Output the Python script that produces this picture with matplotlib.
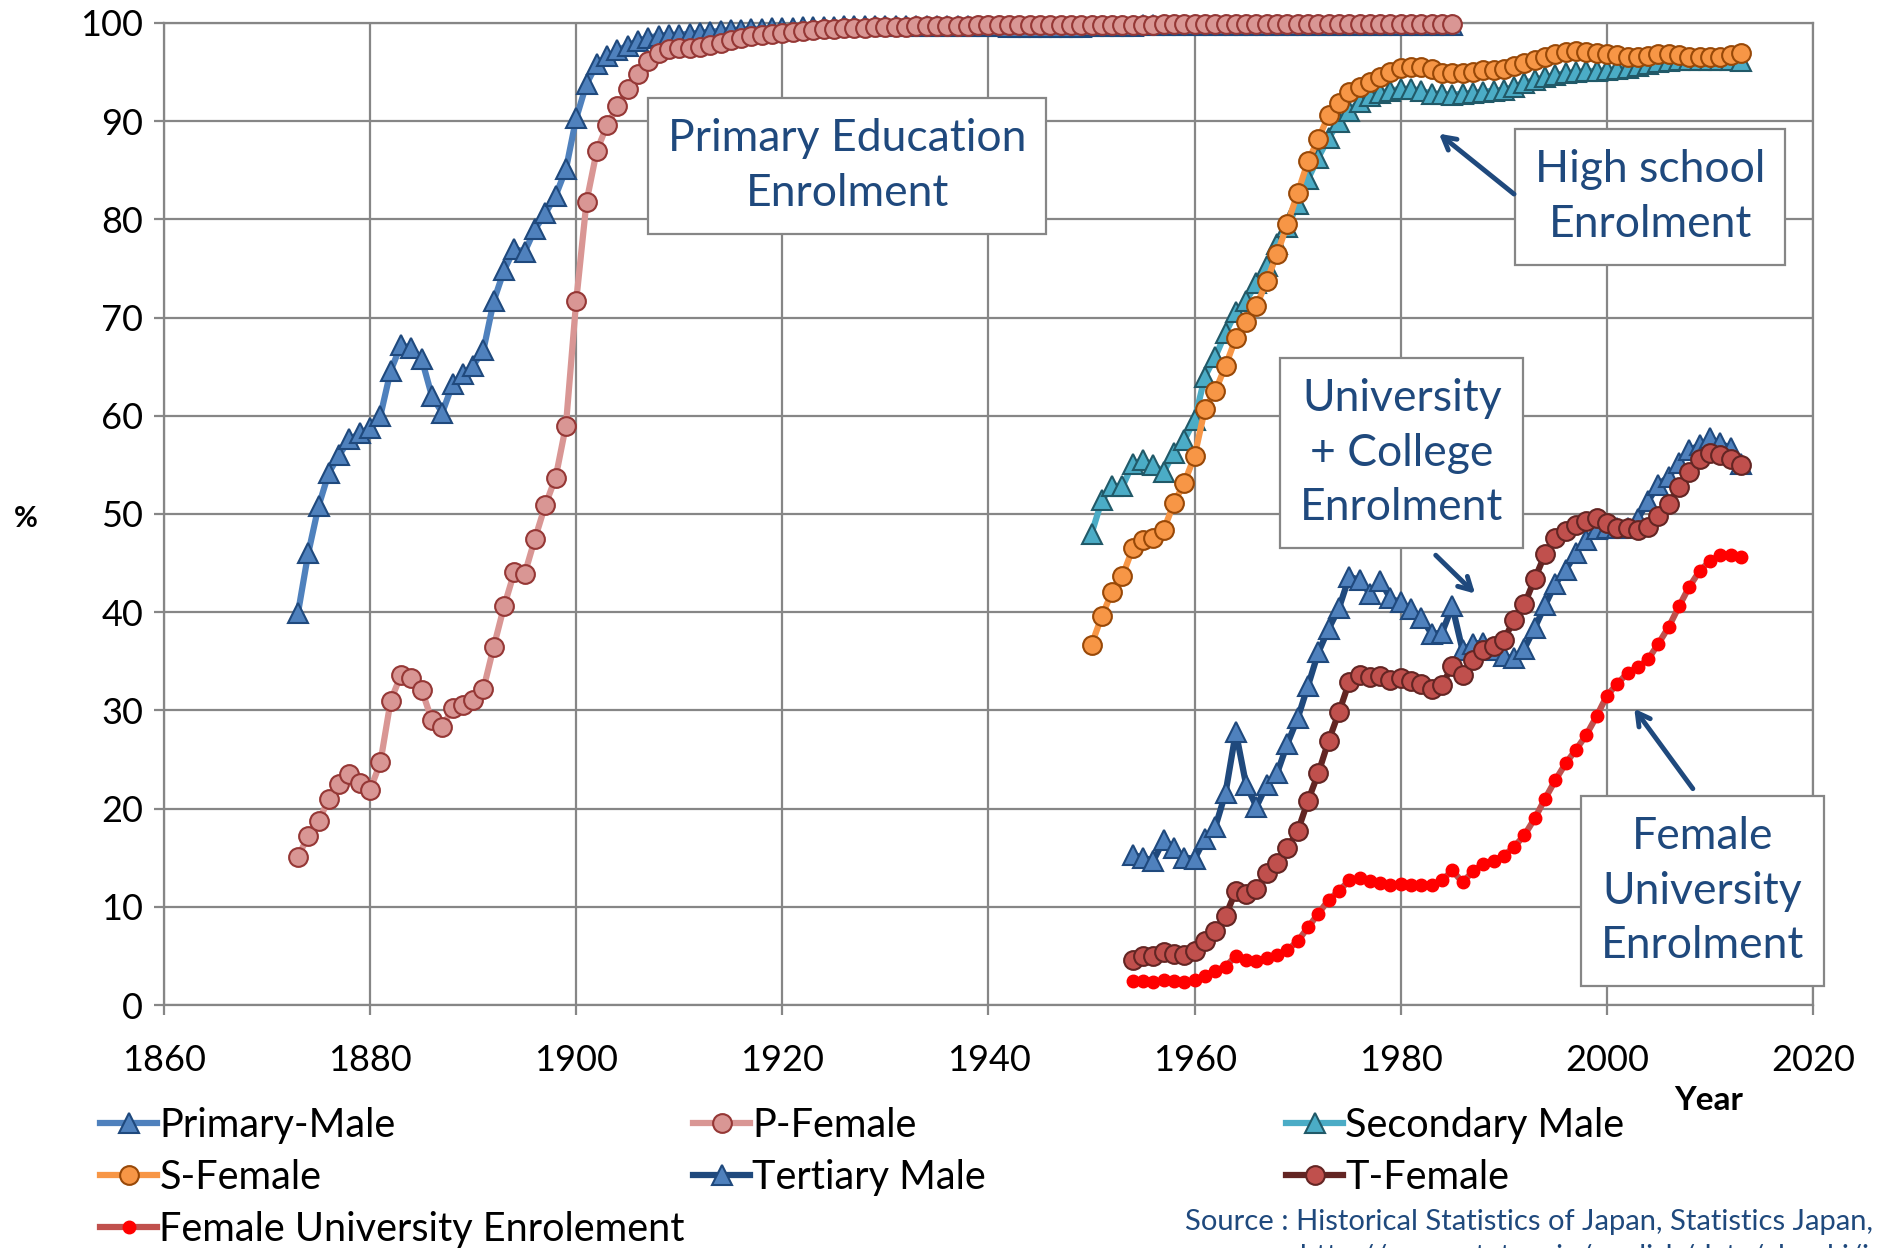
import numpy as np
import matplotlib
matplotlib.use("Agg")
import matplotlib.pyplot as plt

plt.rcParams['font.family'] = ['Lato', 'DejaVu Sans']

# ---- data ----
primary_years = list(range(1873, 1986))
primary_male = [39.9, 46.0, 50.8, 54.2, 56.0, 57.6, 58.2, 58.8, 60.0, 64.6,
                67.2, 66.9, 65.8, 62.0, 60.3, 63.2, 64.3, 65.1, 66.7, 71.7,
                74.8, 77.0, 76.7, 79.0, 80.6, 82.4, 85.1, 90.3, 93.8, 95.8,
                96.6, 97.2, 97.7, 98.2, 98.5, 98.7, 98.8, 98.8, 98.9, 99.0,
                99.1, 99.2, 99.3, 99.3, 99.4, 99.4, 99.5, 99.5, 99.5, 99.6,
                99.6, 99.6, 99.6, 99.7, 99.7, 99.7, 99.7, 99.7, 99.7, 99.7,
                99.7, 99.7, 99.7, 99.7, 99.7, 99.7, 99.7, 99.7, 99.7, 99.6,
                99.6, 99.6, 99.6, 99.6, 99.6, 99.6, 99.6, 99.7, 99.7, 99.7,
                99.7, 99.7, 99.8, 99.8, 99.8, 99.8, 99.8, 99.8, 99.8, 99.8,
                99.8, 99.8, 99.8, 99.8, 99.8, 99.8, 99.8, 99.8, 99.8, 99.8,
                99.8, 99.8, 99.8, 99.8, 99.8, 99.8, 99.8, 99.8, 99.8, 99.8,
                99.8, 99.8, 99.8]
primary_female = [15.1, 17.2, 18.7, 21.0, 22.5, 23.5, 22.6, 21.9, 24.7, 31.0,
                  33.6, 33.3, 32.1, 29.0, 28.3, 30.2, 30.5, 31.1, 32.2, 36.5,
                  40.6, 44.1, 43.9, 47.5, 50.9, 53.7, 59.0, 71.7, 81.8, 87.0,
                  89.6, 91.5, 93.3, 94.8, 96.1, 96.9, 97.3, 97.4, 97.5, 97.6,
                  97.8, 98.0, 98.3, 98.5, 98.7, 98.8, 98.9, 99.0, 99.1, 99.2,
                  99.3, 99.4, 99.4, 99.5, 99.5, 99.5, 99.6, 99.6, 99.6, 99.6,
                  99.7, 99.7, 99.7, 99.7, 99.7, 99.7, 99.8, 99.8, 99.8, 99.8,
                  99.8, 99.8, 99.8, 99.8, 99.8, 99.8, 99.8, 99.8, 99.8, 99.8,
                  99.8, 99.8, 99.8, 99.8, 99.9, 99.9, 99.9, 99.9, 99.9, 99.9,
                  99.9, 99.9, 99.9, 99.9, 99.9, 99.9, 99.9, 99.9, 99.9, 99.9,
                  99.9, 99.9, 99.9, 99.9, 99.9, 99.9, 99.9, 99.9, 99.9, 99.9,
                  99.9, 99.9, 99.9]

secondary_years = list(range(1950, 2014))
secondary_male = [48.0, 51.4, 52.9, 52.8, 55.1, 55.5, 55.0, 54.3, 56.2, 57.5,
                  59.6, 64.0, 66.0, 68.4, 70.6, 71.7, 73.5, 75.3, 77.5, 79.2,
                  81.6, 84.1, 86.3, 88.3, 89.9, 91.0, 92.0, 92.6, 92.9, 93.1,
                  93.3, 93.3, 93.1, 92.8, 92.8, 92.7, 92.8, 92.9, 93.0, 93.1,
                  93.2, 93.5, 93.9, 94.2, 94.5, 94.7, 94.9, 95.0, 95.1, 95.1,
                  95.2, 95.3, 95.4, 95.6, 95.8, 96.0, 96.1, 96.2, 96.2, 96.2,
                  96.2, 96.2, 96.2, 96.1]
secondary_female = [36.7, 39.6, 42.1, 43.7, 46.5, 47.4, 47.6, 48.4, 51.1, 53.2,
                    55.9, 60.7, 62.5, 65.1, 67.9, 69.6, 71.2, 73.7, 76.5, 79.5,
                    82.7, 85.9, 88.2, 90.6, 91.9, 93.0, 93.5, 94.0, 94.5, 95.0,
                    95.4, 95.5, 95.5, 95.3, 94.9, 94.9, 94.9, 95.0, 95.2, 95.2,
                    95.3, 95.6, 95.9, 96.2, 96.5, 96.8, 97.0, 97.1, 97.0, 96.9,
                    96.8, 96.7, 96.5, 96.5, 96.6, 96.8, 96.8, 96.7, 96.5, 96.5,
                    96.5, 96.5, 96.7, 96.9]

tertiary_years = list(range(1954, 2014))
tertiary_male = [15.3, 15.0, 14.7, 16.8, 16.0, 15.0, 14.9, 16.9, 18.1, 21.6,
                 27.8, 22.4, 20.2, 22.4, 23.6, 26.6, 29.2, 32.5, 35.9, 38.3,
                 40.4, 43.6, 43.3, 41.9, 43.2, 41.4, 41.0, 40.3, 39.4, 37.8,
                 37.9, 40.6, 36.1, 36.8, 36.9, 36.2, 35.5, 35.3, 36.3, 38.4,
                 40.7, 42.9, 44.3, 46.0, 47.4, 48.5, 48.6, 48.6, 48.6, 49.5,
                 51.3, 53.0, 53.8, 55.2, 56.5, 57.0, 57.7, 57.2, 56.7, 55.1]
tertiary_female = [4.6, 5.0, 5.0, 5.4, 5.2, 5.1, 5.5, 6.5, 7.5, 9.1,
                   11.6, 11.3, 11.8, 13.4, 14.5, 16.0, 17.7, 20.8, 23.6, 26.9,
                   29.8, 32.9, 33.6, 33.4, 33.5, 33.1, 33.3, 33.0, 32.7, 32.2,
                   32.6, 34.5, 33.6, 35.1, 36.2, 36.6, 37.2, 39.2, 40.8, 43.4,
                   45.9, 47.6, 48.3, 48.9, 49.3, 49.6, 49.1, 48.6, 48.6, 48.4,
                   48.7, 49.8, 51.0, 52.7, 54.3, 55.6, 56.2, 56.0, 55.6, 55.0]
female_university = [2.4, 2.4, 2.3, 2.5, 2.4, 2.3, 2.5, 3.0, 3.5, 3.9,
                     5.0, 4.6, 4.5, 4.8, 5.1, 5.6, 6.5, 7.9, 9.3, 10.7,
                     11.6, 12.7, 12.9, 12.6, 12.4, 12.2, 12.3, 12.2, 12.2, 12.2,
                     12.7, 13.7, 12.5, 13.6, 14.4, 14.7, 15.2, 16.1, 17.3, 19.0,
                     21.0, 22.9, 24.6, 26.0, 27.5, 29.4, 31.5, 32.7, 33.8, 34.4,
                     35.2, 36.8, 38.5, 40.6, 42.6, 44.2, 45.2, 45.8, 45.8, 45.6]

NAVY = '#1F497D'
GRID = '#868686'

fig = plt.figure(figsize=(18.78, 12.48), dpi=100)
ax = fig.add_axes([0.0873, 0.1947, 0.8781, 0.7869])

kw = dict(clip_on=False, zorder=3)
l_pm, = ax.plot(primary_years, primary_male, color='#4F81BD', lw=4.5, marker='^', ms=14.5,
                mfc='#4F81BD', mec=NAVY, mew=1.5, label='Primary-Male', **kw)
l_pf, = ax.plot(primary_years, primary_female, color='#D99694', lw=4.5, marker='o', ms=13.5,
                mfc='#D99694', mec='#953735', mew=1.5, label='P-Female', **kw)
l_sm, = ax.plot(secondary_years, secondary_male, color='#4BACC6', lw=4.5, marker='^', ms=14.5,
                mfc='#4BACC6', mec='#215968', mew=1.5, label='Secondary Male', **kw)
l_sf, = ax.plot(secondary_years, secondary_female, color='#F79646', lw=4.5, marker='o', ms=13.5,
                mfc='#F79646', mec='#984807', mew=1.5, label='S-Female', **kw)
l_tm, = ax.plot(tertiary_years, tertiary_male, color=NAVY, lw=4.5, marker='^', ms=14.5,
                mfc='#4F81BD', mec=NAVY, mew=1.5, label='Tertiary Male', **kw)
l_tf, = ax.plot(tertiary_years, tertiary_female, color='#632523', lw=4.5, marker='o', ms=13.5,
                mfc='#C0504D', mec='#632523', mew=1.5, label='T-Female', **kw)
l_fu, = ax.plot(tertiary_years, female_university, color='#C0504D', lw=4.5, marker='o', ms=9,
                mfc='#FF0000', mec='#FF0000', mew=1, label='Female University Enrolement', **kw)

ax.set_xlim(1860, 2020)
ax.set_ylim(0, 100)
ax.set_xticks(np.arange(1860, 2021, 20))
ax.set_yticks(np.arange(0, 101, 10))
ax.grid(True, color=GRID, lw=1.6)
ax.set_axisbelow(True)
for s in ax.spines.values():
    s.set_color(GRID)
    s.set_linewidth(1.6)
ax.tick_params(direction='out', length=7, width=1.6, color=GRID, labelsize=26, pad=8)
ax.tick_params(axis='x', pad=21)

fig.text(26 / 1878, 1 - 519 / 1248, '%', fontsize=21, fontweight='bold', ha='center', va='center')
fig.text(1709 / 1878, 1 - 1100 / 1248, 'Year', fontsize=24, fontweight='bold', ha='center', va='center')

# text boxes with arrows
box = dict(boxstyle='square,pad=0.45', fc='white', ec=GRID, lw=1.6)
note = dict(fontsize=32, color=NAVY, ha='center', va='center', bbox=box, linespacing=1.42, zorder=5)
ax.text(1926.3, 85.4, 'Primary Education\nEnrolment', **note)
ax.text(2004.2, 82.3, 'High school\nEnrolment', **note)
ax.text(1980.1, 56.2, 'University\n+ College\nEnrolment', **note)
ax.text(2009.3, 11.6, 'Female\nUniversity\nEnrolment', **note)

arrow = dict(arrowstyle='->,head_length=0.9,head_width=0.5', color=NAVY, lw=3.5)
ax.annotate('', xy=(1983.5, 88.9), xytext=(1991.2, 82.4), arrowprops=arrow, zorder=6)
ax.annotate('', xy=(1987.4, 41.7), xytext=(1983.2, 46.0), arrowprops=arrow, zorder=6)
ax.annotate('', xy=(2002.5, 30.4), xytext=(2008.5, 21.8), arrowprops=arrow, zorder=6)

# legend laid out in three columns, row by row like the original
cols = [([l_pm, l_sf, l_fu], 100), ([l_pf, l_tm], 693), ([l_sm, l_tf], 1286)]
for handles, x0 in cols:
    fig.legend(handles=handles, loc='upper left', bbox_to_anchor=(x0 / 1878, 1 - 1107 / 1248),
               frameon=False, fontsize=28.5, handlelength=1.45, handletextpad=0.05,
               borderpad=0, borderaxespad=0, labelspacing=0.38)

fig.text(1185 / 1878, 1 - 1222 / 1248, 'Source : Historical Statistics of Japan, Statistics Japan,',
         fontsize=21, color=NAVY, ha='left', va='center')
fig.text(1300 / 1878, 1 - 1257 / 1248, 'http://www.stat.go.jp/english/data/chouki/index.htm',
         fontsize=21, color=NAVY, ha='left', va='center')

fig.savefig('out.png', dpi=100)
